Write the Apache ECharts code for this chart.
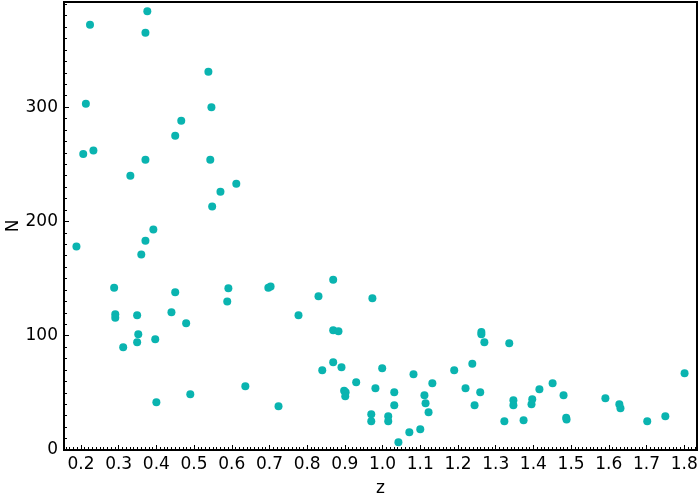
<!DOCTYPE html>
<html>
<head>
<meta charset="utf-8">
<script src="https://cdn.jsdelivr.net/npm/echarts@6/dist/echarts.min.js"></script>
<style>
html,body{margin:0;padding:0;background:#fff;}
#chart{width:700px;height:500px;}
</style>
</head>
<body>
<div id="chart"></div>
<script>
// Data
var zValues = [
  0.376, 0.224, 0.371, 0.538, 0.213, 0.546, 0.466, 0.450, 0.206, 0.233,
  0.371, 0.543, 0.331, 0.612, 0.570, 0.548, 0.392, 0.371, 0.188, 0.360,
  0.288, 0.450, 0.591, 0.588, 0.697, 0.703, 0.869, 0.830, 0.777, 0.869,
  0.883, 0.291, 0.291, 0.349, 0.440, 0.479, 0.352, 0.349, 0.397, 0.312,
  0.869, 0.840, 0.891, 0.636, 0.490, 0.400, 0.724, 0.898, 0.902, 0.901,
  0.930, 0.973, 0.999, 0.981, 0.970, 0.970, 1.031, 1.031, 1.015, 1.015,
  1.042, 1.071, 1.100, 1.082, 1.111, 1.114, 1.122, 1.132, 1.190, 1.220,
  1.238, 1.244, 1.259, 1.262, 1.262, 1.270, 1.323, 1.336, 1.347, 1.347,
  1.374, 1.397, 1.395, 1.416, 1.451, 1.480, 1.487, 1.488, 1.591, 1.628,
  1.631, 1.702, 1.750, 1.801
];
var nValues = [
  384, 372, 365, 331, 303, 300, 288, 275, 259, 262,
  254, 254, 240, 233, 226, 213, 193, 183, 178, 171,
  142, 138, 141.5, 130, 142, 143, 149, 134.5, 118, 104.7,
  103.8, 118.8, 115.8, 118, 120.5, 111, 101.3, 94.2, 97, 90,
  76.7, 69.7, 72.4, 55.7, 48.7, 41.7, 38.2, 51.9, 50.5, 47.0,
  59.2, 132.7, 71.5, 54, 31.3, 25.1, 50.5, 39.2, 29.5, 25.1,
  6.7, 15.6, 18.1, 66.2, 47.9, 40.9, 33, 58.4, 69.7, 54,
  75.5, 39.1, 50.5, 103.2, 101.2, 94.2, 25.1, 93.3, 43.5, 39.1,
  26, 44.4, 40, 53.1, 58.4, 47.9, 28.2, 26.6, 45.2, 40,
  36.5, 25.1, 29.5, 67.1
];
var xTickLabels = [0.2, 0.3, 0.4, 0.5, 0.6, 0.7, 0.8, 0.9, 1.0, 1.1, 1.2, 1.3, 1.4, 1.5, 1.6, 1.7, 1.8];
var yTickLabels = [0, 100, 200, 300];

var X_MIN = 0.155, X_MAX = 1.834, Y_MIN = 0, Y_MAX = 392;

// minor tick positions (every 0.01 on x, every 10 on y)
var xMinor = [];
for (var i = 16; i <= 183; i++) xMinor.push(+(i / 100).toFixed(2));
var yMinor = [];
for (var j = 0; j <= 390; j += 10) yMinor.push(j);

var points = zValues.map(function (z, k) { return [z, nValues[k]]; });

var font = '"DejaVu Sans", Verdana, sans-serif';
var fs = 17;
var chart = echarts.init(document.getElementById('chart'), null, {renderer: 'canvas'});
chart.setOption({
  animation: false,
  backgroundColor: '#fff',
  grid: {
    left: 64, right: 3, top: 2, bottom: 50,
    containLabel: false, outerBoundsMode: 'none',
    show: true, borderColor: '#000', borderWidth: 2, backgroundColor: 'transparent'
  },
  xAxis: [{
    type: 'value', min: X_MIN, max: X_MAX, position: 'bottom',
    name: 'z', nameLocation: 'middle', nameGap: 30, nameMoveOverlap: false,
    nameTextStyle: {fontFamily: font, fontSize: fs, color: '#000'},
    axisLine: {show: false},
    splitLine: {show: false},
    axisTick: {show: true, inside: true, length: 5, customValues: xTickLabels,
      lineStyle: {color: '#000', width: 1}},
    axisLabel: {show: true, customValues: xTickLabels, margin: 6,
      fontFamily: font, fontSize: fs, color: '#000',
      formatter: function (v) { return v.toFixed(1); }}
  }, {
    type: 'value', min: X_MIN, max: X_MAX, position: 'bottom',
    axisLine: {show: false}, splitLine: {show: false},
    axisLabel: {show: false},
    axisTick: {show: true, inside: true, length: 3, customValues: xMinor,
      lineStyle: {color: '#000', width: 1}}
  }],
  yAxis: [{
    type: 'value', min: Y_MIN, max: Y_MAX, position: 'left',
    name: 'N', nameLocation: 'middle', nameGap: 42, nameMoveOverlap: false,
    nameTextStyle: {fontFamily: font, fontSize: fs, color: '#000'},
    axisLine: {show: false},
    splitLine: {show: false},
    axisTick: {show: true, inside: true, length: 5, customValues: yTickLabels,
      lineStyle: {color: '#000', width: 1}},
    axisLabel: {show: true, customValues: yTickLabels, margin: 6,
      fontFamily: font, fontSize: fs, color: '#000'}
  }, {
    type: 'value', min: Y_MIN, max: Y_MAX, position: 'left',
    axisLine: {show: false}, splitLine: {show: false},
    axisLabel: {show: false},
    axisTick: {show: true, inside: true, length: 3, customValues: yMinor,
      lineStyle: {color: '#000', width: 1}}
  }],
  series: [{
    type: 'scatter',
    xAxisIndex: 0, yAxisIndex: 0,
    data: points,
    symbol: 'circle',
    symbolSize: 8,
    itemStyle: {color: '#0ab4b0', opacity: 1},
    emphasis: {disabled: true}
  }]
});
</script>
</body>
</html>
